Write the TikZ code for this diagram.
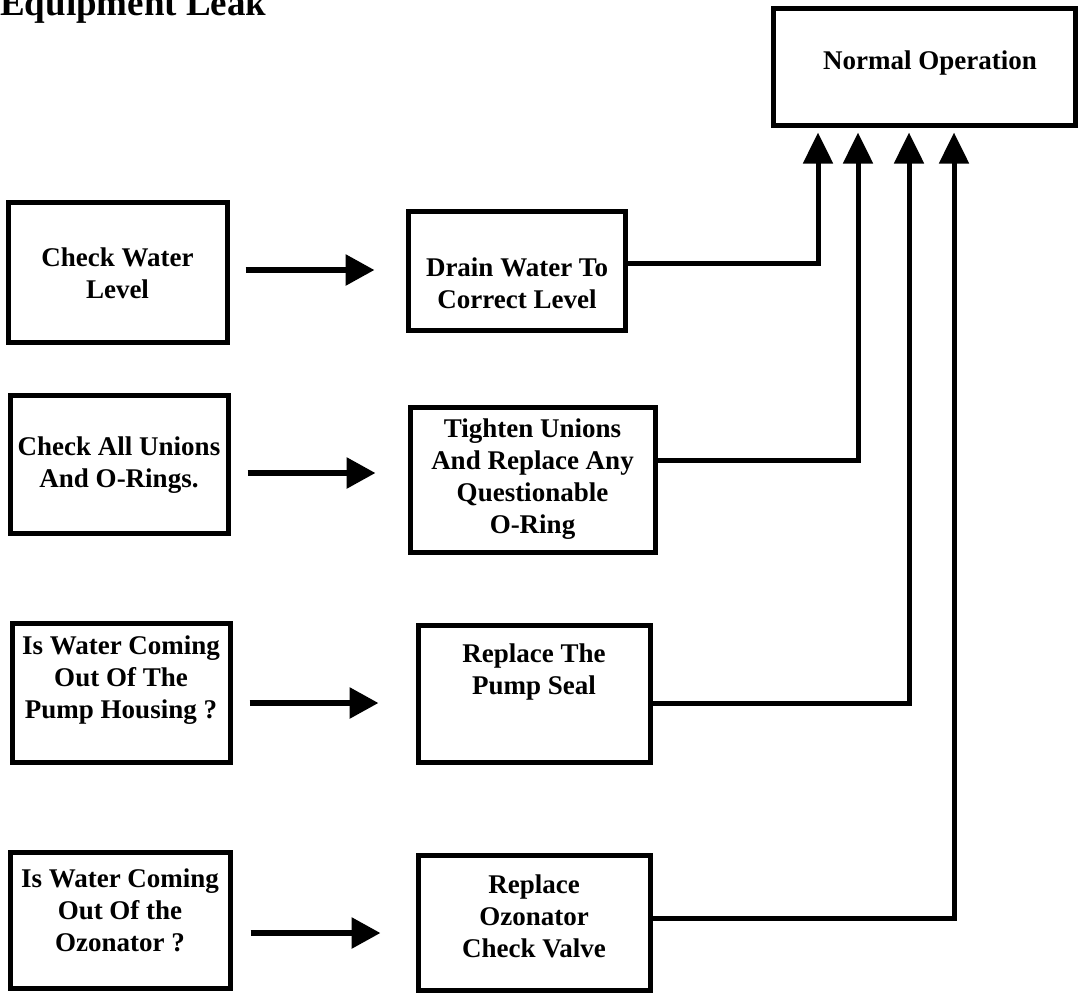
\documentclass[tikz,border=0pt]{standalone}
\usepackage{fontspec}
\setmainfont{Liberation Serif}
\usetikzlibrary{arrows.meta}
\begin{document}
\begin{tikzpicture}[x=1pt,y=-1pt,
  box/.style={draw=black, line width=5pt, fill=none, inner sep=0pt},
  txt/.style={font=\fontsize{27}{32}\selectfont\bfseries, align=center, inner sep=0pt},
  harrow/.style={line width=6pt, -{Triangle[width=30pt,length=29pt]}},
  conn/.style={line width=5pt, -{Triangle[width=29pt,length=31pt]}}
]
\useasboundingbox (0,0) rectangle (1078,993);
\fill[white] (0,0) rectangle (1078,993);

% title
\node[anchor=base west, inner sep=0pt, font=\fontsize{37}{40}\selectfont\bfseries] (title) at (0,16) {Equipment Leak};

% Normal Operation
\node[box, minimum width=302pt, minimum height=117pt] (N) at (924,66.5) {};
\node[txt] (Nt) at (930,63) {Normal Operation};

% left boxes
\node[box, minimum width=219pt, minimum height=140pt] (L1) at (117.5,272) {};
\node[txt] (L1t) at (117.5,273) {Check Water\\Level};
\node[box, minimum width=218pt, minimum height=138pt] (L2) at (119,464) {};
\node[txt] (L2t) at (119,465) {Check All Unions\\And O-Rings.};
\node[box, minimum width=218pt, minimum height=139pt] (L3) at (121,692.5) {};
\node[txt] (L3t) at (121,680) {Is Water Coming\\Out Of The\\Pump Housing ?};
\node[box, minimum width=220pt, minimum height=136pt] (L4) at (120,920) {};
\node[txt] (L4t) at (120,910) {Is Water Coming\\Out Of the\\Ozonator ?};

% right boxes
\node[box, minimum width=217pt, minimum height=119pt] (R1) at (516.5,270.5) {};
\node[txt] (R1t) at (517,283) {Drain Water To\\Correct Level};
\node[box, minimum width=245pt, minimum height=145pt] (R2) at (532.5,479.5) {};
\node[txt] (R2t) at (532.5,479) {Tighten Unions\\And Replace Any\\Questionable\\O-Ring};
\node[box, minimum width=232pt, minimum height=137pt] (R3) at (534,693.5) {};
\node[txt] (R3t) at (534,672) {Replace The\\Pump Seal};
\node[box, minimum width=232pt, minimum height=135pt] (R4) at (534,922.5) {};
\node[txt] (R4t) at (534,916) {Replace\\Ozonator\\Check Valve};

% horizontal arrows
\draw[harrow, shorten <=16pt, shorten >=31pt] (L1.east |- 0,270) -- (R1.west |- 0,270);
\draw[harrow, shorten <=17pt, shorten >=32pt] (L2.east |- 0,473) -- (R2.west |- 0,473);
\draw[harrow, shorten <=17pt, shorten >=37pt] (L3.east |- 0,703) -- (R3.west |- 0,703);
\draw[harrow, shorten <=18pt, shorten >=35pt] (L4.east |- 0,933) -- (R4.west |- 0,933);

% connectors to Normal Operation
\draw[conn, shorten >=5pt] (R1.east |- 0,263) -| (N.south -| 818,0);
\draw[conn, shorten >=5pt] (R2.east |- 0,460) -| (N.south -| 858,0);
\draw[conn, shorten >=5pt] (R3.east |- 0,703) -| (N.south -| 909,0);
\draw[conn, shorten >=5pt] (R4.east |- 0,918) -| (N.south -| 954,0);
\end{tikzpicture}
\end{document}
